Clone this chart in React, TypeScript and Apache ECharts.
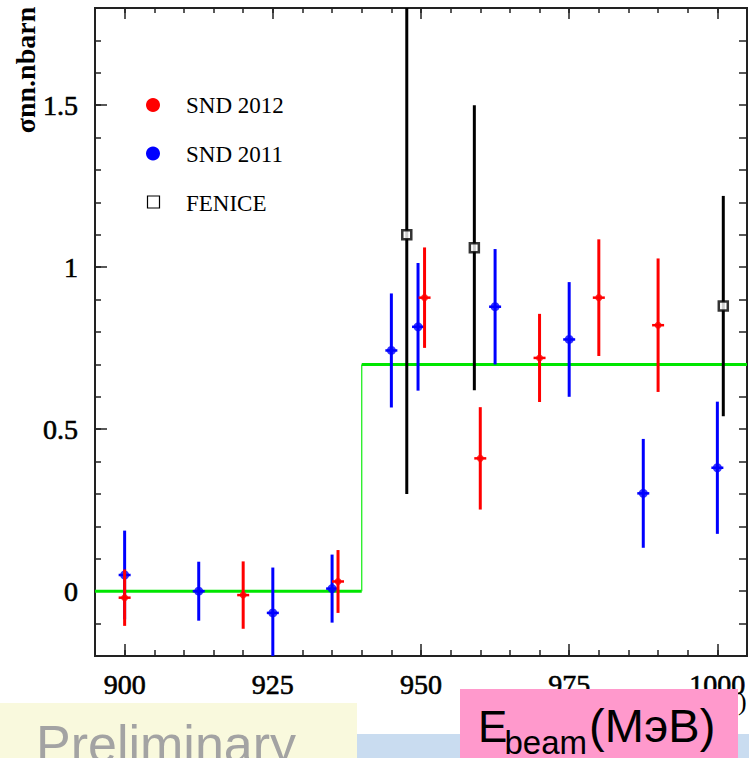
import { useEffect, useRef } from "react";
import * as echarts from "echarts";

// SND 2012 measurements (beam energy, MeV; cross section, nb; error, nb)
const snd2012X = [900, 920, 936, 950.6, 960, 970, 980, 990];
const snd2012Y = [-0.02, -0.012, 0.03, 0.906, 0.41, 0.72, 0.906, 0.821];
const snd2012Err = [0.087, 0.104, 0.097, 0.155, 0.158, 0.136, 0.18, 0.206];

// SND 2011 measurements
const snd2011X = [900, 912.5, 925, 935, 945, 949.5, 962.5, 975, 987.5, 1000];
const snd2011Y = [0.05, 0.0, -0.067, 0.008, 0.743, 0.816, 0.878, 0.777, 0.302, 0.381];
const snd2011Err = [0.137, 0.091, 0.14, 0.105, 0.176, 0.197, 0.178, 0.177, 0.168, 0.204];

// FENICE measurements
const feniceX = [947.6, 959, 1001];
const feniceY = [1.1, 1.06, 0.88];
const feniceErr = [0.8, 0.44, 0.34];

// Step function: threshold at 940 MeV
const stepEdges = [895, 940, 1005];
const stepLevels = [0, 0.7];

// Axis ranges and labels
const X_MIN = 895;
const X_MAX = 1005;
const Y_MIN = -0.2;
const Y_MAX = 1.8;
const xTickLabels = [900, 925, 950, 975, 1000];
const yTickLabels = [0, 0.5, 1, 1.5];

const SERIF = "'Liberation Serif', 'DejaVu Serif', serif";
const SANS = "'Liberation Sans', Arial, sans-serif";

function steps(from: number, to: number, step: number, digits: number): number[] {
  const out: number[] = [];
  const n = Math.round((to - from) / step);
  for (let i = 0; i <= n; i++) out.push(Number((from + i * step).toFixed(digits)));
  return out;
}

const xMinor = steps(X_MIN, X_MAX, 5, 0);
const yMinor = steps(Y_MIN, Y_MAX, 0.1, 1);

function errorBars(
  name: string,
  xs: number[],
  ys: number[],
  errs: number[],
  color: string,
  z: number,
  cap: boolean
) {
  return {
    type: "custom",
    name,
    z,
    clip: true,
    silent: true,
    data: xs.map((x, i) => [x, ys[i], errs[i]]),
    encode: { x: 0, y: 1 },
    renderItem: (_params: any, api: any) => {
      const x = api.value(0);
      const y = api.value(1);
      const e = api.value(2);
      const hi = api.coord([x, y + e]);
      const lo = api.coord([x, y - e]);
      const c = api.coord([x, y]);
      const children: any[] = [
        {
          type: "line",
          shape: { x1: hi[0], y1: hi[1], x2: lo[0], y2: lo[1] },
          style: { stroke: color, lineWidth: 3 },
        },
      ];
      if (cap) {
        children.push({
          type: "line",
          shape: { x1: c[0] - 6, y1: c[1], x2: c[0] + 6, y2: c[1] },
          style: { stroke: color, lineWidth: 2.5 },
        });
      }
      return { type: "group", children };
    },
  };
}

const labelFont = {
  color: "#000",
  fontFamily: SERIF,
  fontSize: 28,
  textBorderColor: "#000",
  textBorderWidth: 0.6,
  formatter: (v: number) => String(v),
};

function xAxisCfg(position: "top" | "bottom", ticks: number[], len: number, labels: boolean) {
  return {
    type: "value",
    position,
    min: X_MIN,
    max: X_MAX,
    splitLine: { show: false },
    axisLine: { show: false, onZero: false },
    axisTick: {
      show: true,
      inside: true,
      length: len,
      customValues: ticks,
      lineStyle: { color: "#222", width: 1.5 },
    },
    axisLabel: {
      show: labels,
      customValues: xTickLabels,
      margin: 14,
      ...labelFont,
    },
  };
}

function yAxisCfg(position: "left" | "right", ticks: number[], len: number, labels: boolean) {
  return {
    type: "value",
    position,
    min: Y_MIN,
    max: Y_MAX,
    splitLine: { show: false },
    axisLine: { show: false, onZero: false },
    axisTick: {
      show: true,
      inside: true,
      length: len,
      customValues: ticks,
      lineStyle: { color: "#222", width: 1.5 },
    },
    axisLabel: {
      show: labels,
      customValues: yTickLabels,
      margin: 17,
      ...labelFont,
    },
  };
}

export default function App() {
  const ref = useRef<HTMLDivElement>(null);

  useEffect(() => {
    const chart = echarts.init(ref.current!, null, { renderer: "svg" });

    const option: any = {
      animation: false,
      backgroundColor: "#fff",
      grid: {
        left: 95,
        top: 8,
        width: 652,
        height: 648,
        show: true,
        borderColor: "#222",
        borderWidth: 2,
        backgroundColor: "transparent",
      },
      xAxis: [
        xAxisCfg("bottom", xMinor, 6, true),
        xAxisCfg("bottom", xTickLabels, 12, false),
        xAxisCfg("top", xMinor, 5, false),
        xAxisCfg("top", xTickLabels, 11, false),
      ],
      yAxis: [
        yAxisCfg("left", yMinor, 6, true),
        yAxisCfg("left", yTickLabels, 12, false),
        yAxisCfg("right", yMinor, 8, false),
      ],
      series: [
        {
          type: "line",
          name: "step-low",
          data: [
            [stepEdges[0], stepLevels[0]],
            [stepEdges[1], stepLevels[0]],
          ],
          symbol: "none",
          lineStyle: { color: "#00e600", width: 3 },
          z: 1,
          silent: true,
        },
        {
          type: "line",
          name: "step-rise",
          data: [
            [stepEdges[1], stepLevels[0]],
            [stepEdges[1], stepLevels[1]],
          ],
          symbol: "none",
          lineStyle: { color: "#22ee22", width: 1.3 },
          z: 1,
          silent: true,
        },
        {
          type: "line",
          name: "step-high",
          data: [
            [stepEdges[1], stepLevels[1]],
            [stepEdges[2], stepLevels[1]],
          ],
          symbol: "none",
          lineStyle: { color: "#00e600", width: 3 },
          z: 1,
          silent: true,
        },
        errorBars("SND 2011 errors", snd2011X, snd2011Y, snd2011Err, "#0000ff", 2, true),
        {
          type: "scatter",
          name: "SND 2011",
          data: snd2011X.map((x, i) => [x, snd2011Y[i]]),
          symbol: "circle",
          symbolSize: 9,
          itemStyle: { color: "#0000ff" },
          z: 3,
        },
        errorBars("SND 2012 errors", snd2012X, snd2012Y, snd2012Err, "#ff0000", 4, true),
        {
          type: "scatter",
          name: "SND 2012",
          data: snd2012X.map((x, i) => [x, snd2012Y[i]]),
          symbol: "circle",
          symbolSize: 7,
          itemStyle: { color: "#ff0000" },
          z: 5,
        },
        errorBars("FENICE errors", feniceX, feniceY, feniceErr, "#000000", 6, false),
        {
          type: "scatter",
          name: "FENICE",
          data: feniceX.map((x, i) => [x, feniceY[i]]),
          symbol: "rect",
          symbolSize: 9,
          itemStyle: { color: "#ffffff", borderColor: "#000000", borderWidth: 2.5 },
          z: 7,
        },
      ],
      graphic: [
        // y-axis title
        {
          type: "text",
          x: 25,
          y: 70,
          rotation: Math.PI / 2,
          style: {
            text: "σnn.nbarn",
            fill: "#000",
            font: `bold 28px ${SERIF}`,
            textAlign: "center",
            textVerticalAlign: "middle",
          },
        },
        // legend
        { type: "circle", shape: { cx: 153, cy: 105, r: 7 }, style: { fill: "#ff0000" } },
        { type: "circle", shape: { cx: 153, cy: 153.5, r: 7 }, style: { fill: "#0000ff" } },
        {
          type: "rect",
          shape: { x: 147.5, y: 196, width: 12, height: 12 },
          style: { fill: "#fff", stroke: "#000", lineWidth: 1.2 },
        },
        {
          type: "text",
          x: 186,
          y: 105,
          style: { text: "SND 2012", fill: "#000", font: `23px ${SERIF}`, textVerticalAlign: "middle" },
        },
        {
          type: "text",
          x: 186,
          y: 154,
          style: { text: "SND 2011", fill: "#000", font: `23px ${SERIF}`, textVerticalAlign: "middle" },
        },
        {
          type: "text",
          x: 186,
          y: 203,
          style: { text: "FENICE", fill: "#000", font: `23px ${SERIF}`, textVerticalAlign: "middle" },
        },
        // bottom banner pieces
        {
          type: "text",
          x: 738,
          y: 701,
          z: 50,
          style: { text: ")", fill: "#000", font: `26px ${SERIF}`, textVerticalAlign: "middle" },
        },
        {
          type: "rect",
          z: 60,
          shape: { x: 0, y: 703, width: 357, height: 55 },
          style: { fill: "#f9f9dd" },
        },
        {
          type: "rect",
          z: 60,
          shape: { x: 357, y: 734, width: 392, height: 24 },
          style: { fill: "#c9dcf0" },
        },
        {
          type: "text",
          x: 36,
          y: 744,
          z: 61,
          style: {
            text: "Preliminary",
            fill: "#a3a3a3",
            font: `52px ${SANS}`,
            textVerticalAlign: "middle",
          },
        },
        {
          type: "rect",
          z: 62,
          shape: { x: 460, y: 689, width: 278, height: 69 },
          style: { fill: "#ff99cc" },
        },
        {
          type: "text",
          x: 478,
          y: 726,
          z: 63,
          style: { text: "E", fill: "#000", font: `44px ${SANS}`, textVerticalAlign: "middle" },
        },
        {
          type: "text",
          x: 504.5,
          y: 742.5,
          z: 63,
          style: { text: "beam", fill: "#000", font: `33px ${SANS}`, textVerticalAlign: "middle" },
        },
        {
          type: "text",
          x: 589,
          y: 725,
          z: 63,
          style: { text: "(МэВ)", fill: "#000", font: `47px ${SANS}`, textVerticalAlign: "middle" },
        },
      ],
    };

    chart.setOption(option);
    return () => chart.dispose();
  }, []);

  return (
    <div
      ref={ref}
      style={{ position: "absolute", left: 0, top: 0, width: 749, height: 758, background: "#fff" }}
    />
  );
}
